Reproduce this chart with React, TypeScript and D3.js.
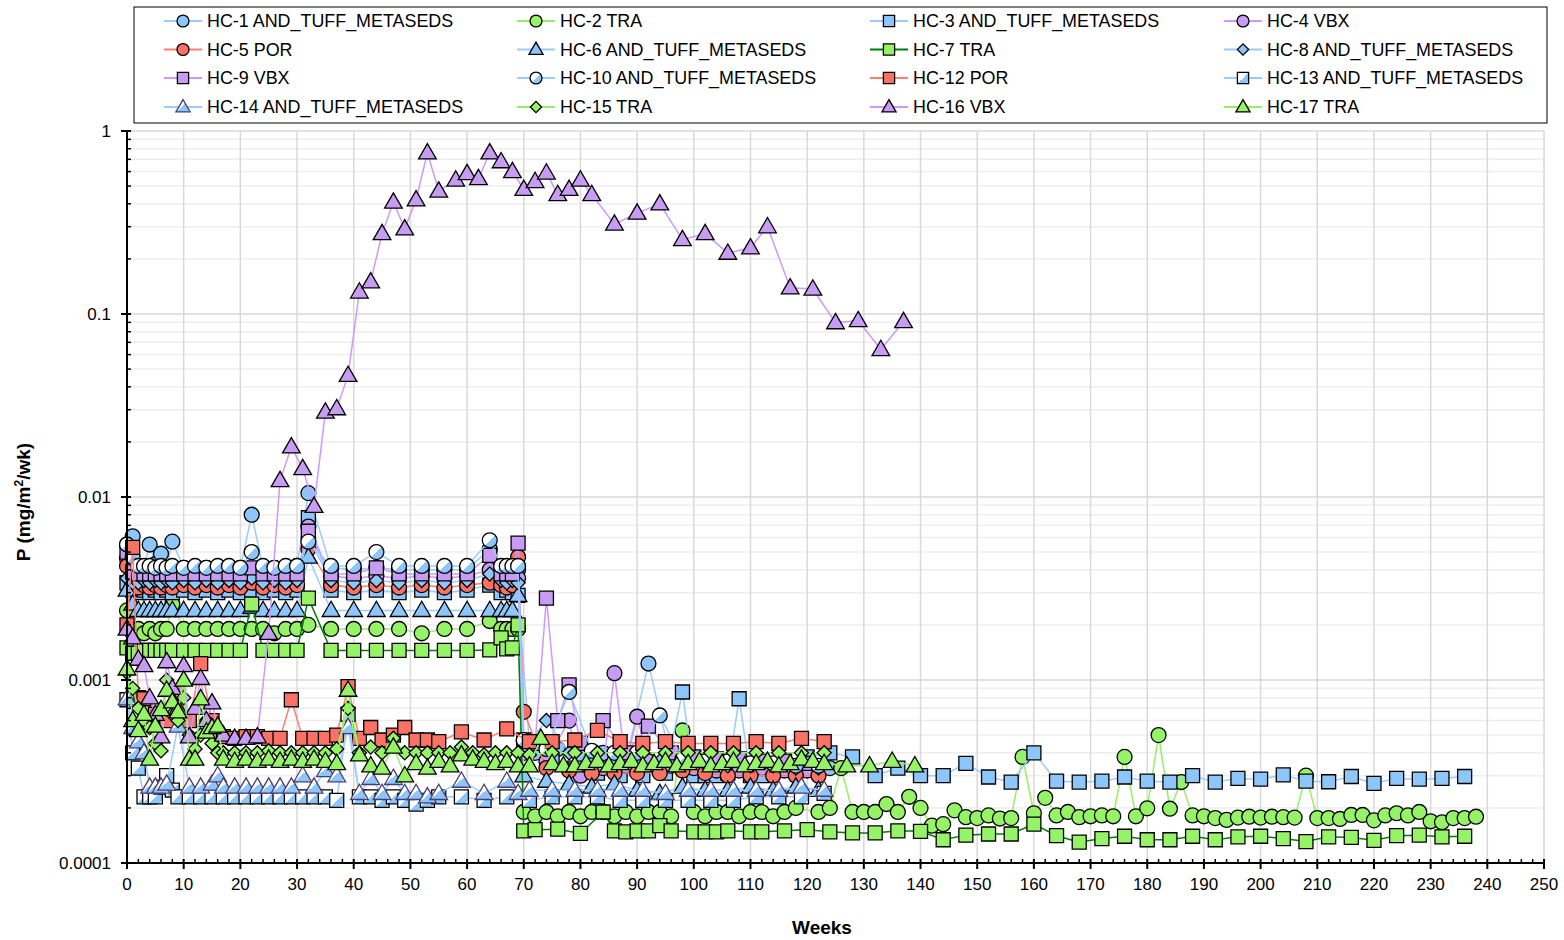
import React from 'react';
import * as d3 from 'd3';

type Pt = [number, number];

// sampling weeks shared by the upper-band series (weeks 0-69)
const weeksEarly = [0,1,2,3,4,5,6,7,8,10,12,14,16,18,20,22,24,26,28,30,32,36,40,44,48,52,56,60,64,66,67,68,69];

const hc1Early = [0.0055,0.0061,0.0042,0.0041,0.0055,0.0043,0.0049,0.0041,0.0057,0.0041,0.0041,0.0041,0.0041,0.0041,0.0041,0.0080,0.0041,0.0041,0.0041,0.0042,0.0105,0.0041,0.0040,0.0041,0.0040,0.0040,0.0040,0.0040,0.0052,0.0041,0.0041,0.0040,0.0040];
const hc2Early = [0.0024,0.0018,0.0019,0.0018,0.0019,0.0018,0.0019,0.0019,0.0026,0.0019,0.0019,0.0019,0.0019,0.0019,0.0019,0.0019,0.0019,0.0018,0.0019,0.0019,0.0020,0.0019,0.0019,0.0019,0.0019,0.0018,0.0019,0.0019,0.0021,0.0019,0.0019,0.0019,0.0019];
const hc3Early = [0.0034,0.0031,0.0030,0.0031,0.0030,0.0031,0.0030,0.0031,0.0030,0.0031,0.0030,0.0031,0.0030,0.0031,0.0030,0.0031,0.0030,0.0031,0.0030,0.0031,0.0077,0.0031,0.0030,0.0031,0.0030,0.0031,0.0030,0.0031,0.0033,0.0030,0.0031,0.0030,0.0029];
const hc4Early = [0.0046,0.0040,0.0037,0.0036,0.0037,0.0036,0.0037,0.0036,0.0037,0.0036,0.0037,0.0036,0.0037,0.0036,0.0037,0.0038,0.0036,0.0037,0.0036,0.0037,0.0069,0.0037,0.0036,0.0037,0.0036,0.0037,0.0036,0.0037,0.0040,0.0037,0.0036,0.0037,0.0036];
const hc5Early = [0.0042,0.0034,0.0032,0.0033,0.0032,0.0033,0.0032,0.0033,0.0032,0.0033,0.0032,0.0033,0.0032,0.0033,0.0032,0.0034,0.0032,0.0033,0.0032,0.0033,0.0052,0.0033,0.0032,0.0033,0.0032,0.0033,0.0032,0.0033,0.0034,0.0033,0.0032,0.0033,0.0047];
const hc6Early = [0.0031,0.0026,0.0024,0.0024,0.0024,0.0024,0.0024,0.0024,0.0024,0.0024,0.0024,0.0024,0.0024,0.0024,0.0024,0.0025,0.0024,0.0024,0.0024,0.0024,0.0047,0.0024,0.0024,0.0024,0.0024,0.0024,0.0024,0.0024,0.0024,0.0024,0.0024,0.0024,0.0029];
const hc7Early = [0.0015,0.0014,0.0014,0.00145,0.00145,0.00145,0.00145,0.00145,0.00145,0.00145,0.00145,0.00145,0.00145,0.00145,0.00145,0.0026,0.00145,0.00145,0.00145,0.00145,0.0028,0.00145,0.00145,0.00145,0.00145,0.00145,0.00145,0.00145,0.00146,0.0017,0.00148,0.0015,0.0020];
const hc8Early = [0.0036,0.0034,0.0034,0.0035,0.0034,0.0035,0.0034,0.0035,0.0034,0.0035,0.0034,0.0035,0.0034,0.0035,0.0034,0.0036,0.0034,0.0035,0.0034,0.0035,0.0060,0.0035,0.0034,0.0035,0.0034,0.0035,0.0034,0.0035,0.0038,0.0035,0.0034,0.0035,0.0034];
const hc9Early = [0.0050,0.0039,0.0038,0.0038,0.0038,0.0038,0.0038,0.0038,0.0038,0.0038,0.0038,0.0038,0.0038,0.0038,0.0038,0.0041,0.0038,0.0038,0.0038,0.0038,0.0065,0.0038,0.0038,0.0041,0.0038,0.0038,0.0038,0.0038,0.0048,0.0038,0.0038,0.0038,0.0056];
const hc10Early = [0.0055,0.0047,0.0042,0.0042,0.0042,0.0041,0.0042,0.0041,0.0042,0.0041,0.0042,0.0041,0.0042,0.0042,0.0041,0.0050,0.0042,0.0041,0.0042,0.0042,0.0057,0.0042,0.0042,0.0050,0.0042,0.0042,0.0042,0.0042,0.0058,0.0042,0.0042,0.0042,0.0042];

// after week 70: [week, value]
const hc1Late: Pt[] = [[70,0.00046],[72,0.0004],[76,0.00042],[80,0.00038],[84,0.0004],[88,0.00036],[92,0.00123],[96,0.00036],[100,0.00034],[104,0.00034],[108,0.00035],[112,0.00034],[116,0.00035],[120,0.00034],[124,0.00033]];
const hc2Late: Pt[] = [[70,0.00019],[72,0.00018],[74,0.00019],[76,0.00018],[78,0.00019],[80,0.00018],[82,0.00019],[84,0.00019],[86,0.00018],[88,0.00019],[90,0.00018],[92,0.00019],[94,0.00019],[96,0.00018],[98,0.00053],[100,0.00019],[102,0.00018],[104,0.00019],[106,0.00019],[108,0.00018],[110,0.00019],[112,0.00019],[114,0.00018],[116,0.00019],[118,0.0002],[122,0.00019],[124,0.0002],[126,0.00033],[128,0.00019],[130,0.00019],[132,0.00019],[134,0.00021],[136,0.00019],[138,0.00023],[140,0.0002],[142,0.00016],[144,0.000163],[146,0.000194],[148,0.000178],[150,0.000176],[152,0.000182],[154,0.000175],[156,0.000176],[158,0.00038],[160,0.000187],[162,0.000227],[164,0.000182],[166,0.00019],[168,0.000178],[170,0.00018],[172,0.000182],[174,0.00018],[176,0.00038],[178,0.00018],[180,0.000199],[182,0.0005],[184,0.000198],[186,0.000277],[188,0.000182],[190,0.00018],[192,0.000176],[194,0.000172],[196,0.000177],[198,0.000179],[200,0.000177],[202,0.000179],[204,0.000178],[206,0.000177],[208,0.0003],[210,0.000176],[212,0.000176],[214,0.000174],[216,0.000183],[218,0.000183],[220,0.000171],[222,0.000182],[224,0.000187],[226,0.000182],[228,0.00019],[230,0.000169],[232,0.000167],[234,0.000176],[236,0.000176],[238,0.000179]];
const hc3Late: Pt[] = [[71,0.00045],[75,0.00036],[79,0.00033],[83,0.00031],[87,0.0003],[91,0.0003],[95,0.00031],[98,0.00086],[100,0.0003],[102,0.0003],[104,0.0003],[106,0.00031],[108,0.00079],[110,0.0003],[112,0.0003],[116,0.00036],[120,0.00038],[124,0.0004],[128,0.00038],[132,0.0003],[136,0.00033],[140,0.0003],[144,0.0003],[148,0.00035],[152,0.000295],[156,0.000277],[160,0.0004],[164,0.00028],[168,0.000277],[172,0.00028],[176,0.000295],[180,0.00028],[184,0.000277],[188,0.0003],[192,0.000277],[196,0.00029],[200,0.000287],[204,0.000303],[208,0.00028],[212,0.000278],[216,0.000297],[220,0.000272],[224,0.00029],[228,0.000287],[232,0.00029],[236,0.000297]];
const hc4Late: Pt[] = [[70,0.0004],[74,0.00036],[78,0.0006],[80,0.0003],[84,0.00033],[86,0.00109],[88,0.00034],[90,0.00063],[92,0.00036],[96,0.00034],[100,0.00033],[104,0.00032],[108,0.00032],[112,0.00033],[116,0.00032],[120,0.00032]];
const hc5Late: Pt[] = [[70,0.00067],[74,0.00033],[78,0.00032],[82,0.00031],[86,0.00031],[90,0.00031],[94,0.00031],[98,0.00032],[102,0.00031],[106,0.0003],[110,0.0003],[114,0.0003],[118,0.0003],[122,0.0003]];
const hc6Late: Pt[] = [[70,0.0003],[74,0.00028],[78,0.00027],[82,0.00026],[86,0.00027],[90,0.00025],[94,0.00024],[98,0.00026],[102,0.00025],[106,0.00025],[110,0.00026],[114,0.00025],[118,0.00026],[122,0.00025]];
const hc7Late: Pt[] = [[70,0.00015],[72,0.000152],[76,0.000153],[80,0.000145],[84,0.00019],[86,0.00015],[88,0.000148],[90,0.00015],[92,0.00015],[94,0.00016],[96,0.00015],[100,0.000148],[102,0.000148],[104,0.000148],[106,0.00015],[110,0.000148],[112,0.000148],[116,0.00015],[120,0.000152],[124,0.000148],[128,0.000146],[132,0.000146],[136,0.00015],[140,0.000149],[144,0.000134],[148,0.000142],[152,0.000144],[156,0.000144],[160,0.000163],[164,0.000141],[168,0.00013],[172,0.000136],[176,0.00014],[180,0.000134],[184,0.000134],[188,0.00014],[192,0.000134],[196,0.000139],[200,0.00014],[204,0.000136],[208,0.000131],[212,0.000139],[216,0.000138],[220,0.000133],[224,0.000141],[228,0.000142],[232,0.000139],[236,0.00014]];
const hc8Late: Pt[] = [[70,0.00042],[74,0.0006],[78,0.0004],[82,0.00038],[86,0.00037],[90,0.00037],[94,0.00036],[98,0.00035],[102,0.00035],[106,0.00034],[110,0.00034],[114,0.00034],[118,0.00033],[122,0.00033]];
const hc9Late: Pt[] = [[70,0.00047],[72,0.00045],[74,0.0028],[76,0.0006],[78,0.00094],[80,0.00045],[84,0.0006],[88,0.0004],[92,0.00056],[96,0.0004],[100,0.00038],[104,0.00037],[108,0.00037],[112,0.00036],[116,0.00036],[120,0.00035]];
const hc10Late: Pt[] = [[70,0.00047],[74,0.00042],[78,0.00086],[82,0.00041],[86,0.0004],[90,0.0004],[94,0.00064],[98,0.00037],[102,0.00036],[106,0.00036],[110,0.00035],[114,0.00035],[118,0.00034],[122,0.00034]];

// lower-band series
const hc12: Pt[] = [[0,0.002],[1,0.0053],[2,0.0008],[3,0.00079],[5,0.00065],[7,0.0006],[9,0.00086],[11,0.0006],[13,0.00123],[15,0.0006],[17,0.00049],[19,0.00048],[21,0.00049],[23,0.00049],[25,0.00048],[27,0.00048],[29,0.00078],[31,0.00048],[33,0.00048],[35,0.00048],[37,0.0005],[39,0.00092],[41,0.00048],[43,0.00055],[45,0.00047],[47,0.0005],[49,0.00055],[51,0.00047],[53,0.00047],[55,0.00046],[59,0.00052],[63,0.00047],[67,0.00054],[71,0.00046],[75,0.00046],[79,0.00047],[83,0.00053],[87,0.00046],[91,0.00045],[95,0.00046],[99,0.00045],[103,0.00045],[107,0.00045],[111,0.00046],[115,0.00045],[119,0.00048],[123,0.00046]];
const hc13: Pt[] = [[0,0.00078],[1,0.0004],[2,0.00033],[3,0.00023],[4,0.00023],[5,0.00023],[6,0.00026],[7,0.0003],[8,0.00025],[9,0.00023],[11,0.00023],[13,0.00023],[15,0.00023],[17,0.00023],[19,0.00023],[21,0.00023],[23,0.00023],[25,0.00023],[27,0.00023],[29,0.00023],[31,0.00023],[33,0.00023],[35,0.00023],[37,0.00022],[39,0.00065],[41,0.00023],[43,0.00023],[45,0.00022],[47,0.00023],[49,0.00022],[51,0.00021],[53,0.00022],[55,0.00023],[59,0.00023],[63,0.00022],[67,0.00023],[71,0.00022],[75,0.00023],[79,0.00023],[83,0.00023],[87,0.00022],[91,0.00022],[95,0.00022],[99,0.00022],[103,0.00022],[107,0.00022],[111,0.00023],[115,0.00023],[119,0.00023],[123,0.00024]];
const hc14: Pt[] = [[0,0.00079],[1,0.00055],[2,0.00046],[3,0.0004],[4,0.00026],[5,0.00026],[6,0.00026],[7,0.00027],[9,0.00056],[11,0.00026],[13,0.00026],[15,0.00027],[16,0.0003],[17,0.00026],[19,0.00026],[21,0.00026],[23,0.00026],[25,0.00026],[27,0.00026],[29,0.00026],[31,0.0003],[33,0.00026],[35,0.00032],[37,0.0003],[39,0.00055],[41,0.00024],[43,0.00029],[45,0.00024],[47,0.00029],[49,0.00024],[51,0.00024],[53,0.00023],[55,0.00024],[59,0.00028],[63,0.00024],[67,0.00028],[69,0.00024],[71,0.00025],[75,0.00025],[79,0.00025],[83,0.00025],[87,0.00025],[91,0.00025],[95,0.00024],[99,0.00025],[103,0.00025],[107,0.00025],[111,0.00025],[115,0.00025],[119,0.00026],[123,0.00025]];
const hc15: Pt[] = [[0,0.0011],[1,0.0009],[2,0.0007],[3,0.0006],[4,0.00055],[5,0.00045],[6,0.00041],[7,0.001],[8,0.00065],[9,0.0006],[10,0.0008],[11,0.0005],[12,0.00042],[13,0.0005],[14,0.0006],[15,0.00045],[16,0.0004],[17,0.0004],[19,0.0004],[21,0.0004],[23,0.0004],[25,0.00041],[27,0.0004],[29,0.0004],[31,0.0004],[33,0.0004],[35,0.0004],[37,0.00042],[39,0.0007],[41,0.0004],[43,0.00043],[45,0.0004],[47,0.00048],[49,0.0004],[51,0.0004],[53,0.0004],[55,0.0004],[57,0.0004],[59,0.00043],[61,0.0004],[63,0.00039],[65,0.0004],[67,0.0004],[69,0.0004],[71,0.00039],[75,0.0004],[79,0.0004],[83,0.0004],[87,0.0004],[91,0.0004],[95,0.0004],[99,0.0004],[103,0.0004],[107,0.0004],[111,0.0004],[115,0.0004],[119,0.0004],[123,0.0004]];
const hc16: Pt[] = [[0,0.0019],[1,0.0017],[2,0.0013],[3,0.0012],[4,0.0008],[5,0.00065],[6,0.00049],[7,0.00126],[8,0.0009],[9,0.0007],[10,0.0012],[11,0.00049],[12,0.0007],[13,0.00102],[14,0.0006],[15,0.00075],[16,0.00055],[17,0.0005],[19,0.00048],[21,0.00048],[23,0.00049],[25,0.0018],[27,0.0123],[29,0.0188],[31,0.0143],[33,0.0089],[35,0.0291],[37,0.0304],[39,0.0462],[41,0.132],[43,0.15],[45,0.275],[47,0.409],[49,0.292],[51,0.421],[53,0.76],[55,0.47],[58,0.54],[60,0.585],[62,0.55],[64,0.76],[66,0.68],[68,0.6],[70,0.48],[72,0.53],[74,0.59],[76,0.45],[78,0.48],[80,0.54],[82,0.45],[86,0.31],[90,0.356],[94,0.4],[98,0.255],[102,0.275],[106,0.215],[110,0.23],[113,0.3],[117,0.139],[121,0.137],[125,0.0897],[129,0.092],[133,0.064],[137,0.091]];
const hc17: Pt[] = [[0,0.00115],[1,0.0006],[2,0.00053],[3,0.00065],[4,0.00037],[5,0.00056],[6,0.00069],[7,0.00088],[8,0.00076],[9,0.00067],[10,0.001],[11,0.00037],[12,0.00037],[13,0.00079],[14,0.00052],[15,0.00055],[16,0.00056],[17,0.00037],[19,0.00036],[21,0.00037],[23,0.00036],[25,0.00037],[27,0.00036],[29,0.00037],[31,0.00036],[33,0.00037],[35,0.00036],[37,0.00035],[39,0.00088],[41,0.00039],[43,0.00034],[45,0.00033],[47,0.00043],[49,0.0003],[51,0.00035],[53,0.00033],[55,0.00036],[57,0.00034],[59,0.00039],[61,0.00037],[63,0.00036],[65,0.00035],[67,0.00036],[69,0.00034],[71,0.00034],[73,0.00048],[75,0.00035],[77,0.00034],[79,0.00034],[81,0.00035],[83,0.00036],[85,0.00034],[87,0.00035],[89,0.00036],[91,0.00034],[93,0.00035],[95,0.00036],[97,0.00034],[99,0.00035],[101,0.00036],[103,0.00034],[105,0.00035],[107,0.00036],[109,0.00034],[111,0.00035],[113,0.00036],[115,0.00034],[117,0.00035],[119,0.00037],[121,0.00036],[123,0.00035],[127,0.00034],[131,0.00034],[135,0.00036],[139,0.00034]];

const yTickLabels = ['0.0001', '0.001', '0.01', '0.1', '1'];
const xTicks = d3.range(0, 251, 10);

const BLUE = '#8CC6FA', BLUE_LINE = '#99CCFF';
const GREEN = '#96F266', GREEN_LINE = '#99EE66';
const RED = '#FA7266', RED_LINE = '#FF7F73';
const PURPLE = '#C79CF2', PURPLE_LINE = '#CC99FF';
const DARK_GREEN = '#008000';
const SPLIT = 'url(#split)';
const FONT = '"Liberation Sans", Arial, sans-serif';

const zip = (w: number[], v: number[]): Pt[] => w.map((d, i) => [d, v[i]] as Pt);

const series = [
  {name: 'HC-1 AND_TUFF_METASEDS', data: zip(weeksEarly, hc1Early).concat(hc1Late), shape: 'circle', fill: BLUE, line: BLUE_LINE},
  {name: 'HC-2 TRA', data: zip(weeksEarly, hc2Early).concat(hc2Late), shape: 'circle', fill: GREEN, line: GREEN_LINE},
  {name: 'HC-3 AND_TUFF_METASEDS', data: zip(weeksEarly, hc3Early).concat(hc3Late), shape: 'square', fill: BLUE, line: BLUE_LINE},
  {name: 'HC-4 VBX', data: zip(weeksEarly, hc4Early).concat(hc4Late), shape: 'circle', fill: PURPLE, line: PURPLE_LINE},
  {name: 'HC-5 POR', data: zip(weeksEarly, hc5Early).concat(hc5Late), shape: 'circle', fill: RED, line: RED_LINE},
  {name: 'HC-6 AND_TUFF_METASEDS', data: zip(weeksEarly, hc6Early).concat(hc6Late), shape: 'triangle', fill: BLUE, line: BLUE_LINE},
  {name: 'HC-7 TRA', data: zip(weeksEarly, hc7Early).concat(hc7Late), shape: 'square', fill: GREEN, line: DARK_GREEN},
  {name: 'HC-8 AND_TUFF_METASEDS', data: zip(weeksEarly, hc8Early).concat(hc8Late), shape: 'diamond', fill: BLUE, line: BLUE_LINE},
  {name: 'HC-9 VBX', data: zip(weeksEarly, hc9Early).concat(hc9Late), shape: 'square', fill: PURPLE, line: PURPLE_LINE},
  {name: 'HC-10 AND_TUFF_METASEDS', data: zip(weeksEarly, hc10Early).concat(hc10Late), shape: 'circle', fill: SPLIT, line: BLUE_LINE},
  {name: 'HC-12 POR', data: hc12, shape: 'square', fill: RED, line: RED_LINE},
  {name: 'HC-13 AND_TUFF_METASEDS', data: hc13, shape: 'square', fill: SPLIT, line: BLUE_LINE},
  {name: 'HC-14 AND_TUFF_METASEDS', data: hc14, shape: 'triangle', fill: SPLIT, line: BLUE_LINE, stroke: '#4A3B73'},
  {name: 'HC-15 TRA', data: hc15, shape: 'diamond', fill: GREEN, line: GREEN_LINE},
  {name: 'HC-16 VBX', data: hc16, shape: 'triangle', fill: PURPLE, line: PURPLE_LINE},
  {name: 'HC-17 TRA', data: hc17, shape: 'triangle', fill: GREEN, line: GREEN_LINE},
];

const symbols: Record<string, string> = {
  circle: d3.symbol(d3.symbolCircle, 175)() as string,
  square: d3.symbol(d3.symbolSquare, 196)() as string,
  triangle: d3.symbol(d3.symbolTriangle, 135)() as string,
  diamond: d3.symbol(d3.symbolSquare, 100)() as string,
};

const Marker = ({shape, x, y, fill, stroke, scale = 1}: any) => (
  <path d={symbols[shape]}
    transform={`translate(${x},${y}) scale(${scale})${shape === 'diamond' ? ' rotate(45)' : ''}${shape === 'triangle' ? ' translate(0,1)' : ''}`}
    fill={fill} stroke={stroke || '#000'} strokeWidth={1.3 / scale} />
);

export default function App() {
  const x = d3.scaleLinear().domain([0, 250]).range([127, 1544]);
  const y = d3.scaleLog().domain([0.0001, 1]).range([863, 131]);
  const line = d3.line<Pt>().x(d => x(d[0])).y(d => y(d[1]));

  const decades = [0.0001, 0.001, 0.01, 0.1];
  const minor: number[] = [];
  decades.forEach(d => { for (let k = 2; k <= 9; k++) minor.push(d * k); });
  const major = [0.0001, 0.001, 0.01, 0.1, 1];
  const xMinor = d3.range(0, 251, 2).filter(v => v % 10 !== 0);

  const legendCols = [183, 536, 889, 1243];
  const legendRows = [21, 49.5, 78, 107];

  return (
    <svg width={1564} height={940} style={{position: 'absolute', left: 0, top: 0, background: '#fff'}}
      fontFamily={FONT}>
      <defs>
        <linearGradient id="split" x1="0" y1="0" x2="1" y2="1">
          <stop offset="0" stopColor="#fff" />
          <stop offset="0.5" stopColor="#fff" />
          <stop offset="0.5" stopColor={BLUE} />
          <stop offset="0.88" stopColor={BLUE} />
          <stop offset="0.88" stopColor="#fff" />
          <stop offset="1" stopColor="#fff" />
        </linearGradient>
      </defs>

      {/* grid */}
      {minor.map((v, i) => (
        <line key={'hm' + i} x1={127} x2={1544} y1={y(v)} y2={y(v)} stroke="#EEEEEE" strokeWidth={1.5} />
      ))}
      {major.map((v, i) => (
        <line key={'hM' + i} x1={127} x2={1544} y1={y(v)} y2={y(v)} stroke="#D9D9D9" strokeWidth={1.5} />
      ))}
      {xTicks.map(v => (
        <line key={'vg' + v} x1={x(v)} x2={x(v)} y1={131} y2={863} stroke="#D9D9D9" strokeWidth={1.5} />
      ))}

      {/* series */}
      {series.map(s => (
        <g key={s.name}>
          <path d={line(s.data) as string} fill="none" stroke={s.line} strokeWidth={1.5} />
          {s.data.map((d, i) => (
            <Marker key={i} shape={s.shape} x={x(d[0])} y={y(d[1])} fill={s.fill} stroke={(s as any).stroke} />
          ))}
        </g>
      ))}

      {/* y axis */}
      <line x1={127} x2={127} y1={130} y2={864} stroke="#000" strokeWidth={2} />
      {major.map((v, i) => (
        <g key={'yt' + i}>
          <line x1={121} x2={131} y1={y(v)} y2={y(v)} stroke="#000" strokeWidth={2} />
          <text x={111} y={y(v) + 6} fontSize={17} textAnchor="end">{yTickLabels[i]}</text>
        </g>
      ))}
      {minor.map((v, i) => (
        <line key={'ym' + i} x1={127} x2={131} y1={y(v)} y2={y(v)} stroke="#000" strokeWidth={1.5} />
      ))}

      {/* x axis */}
      <line x1={126} x2={1545} y1={863} y2={863} stroke="#000" strokeWidth={2} />
      {xTicks.map(v => (
        <g key={'xt' + v}>
          <line x1={x(v)} x2={x(v)} y1={859} y2={869} stroke="#000" strokeWidth={2} />
          <text x={x(v)} y={890} fontSize={17} textAnchor="middle">{v}</text>
        </g>
      ))}
      {xMinor.map(v => (
        <line key={'xm' + v} x1={x(v)} x2={x(v)} y1={859} y2={863} stroke="#000" strokeWidth={1.5} />
      ))}

      <text x={822} y={934} fontSize={19} fontWeight="bold" textAnchor="middle">Weeks</text>
      <text transform="translate(30,502) rotate(-90)" fontSize={19} fontWeight="bold" textAnchor="middle">
        P (mg/m<tspan fontSize={12} dy={-7}>2</tspan><tspan dy={7}>/wk)</tspan>
      </text>

      {/* legend */}
      <rect x={134} y={7} width={1413} height={116} fill="#fff" stroke="#000" strokeWidth={1} />
      {series.map((s, i) => {
        const cx = legendCols[i % 4];
        const cy = legendRows[Math.floor(i / 4)];
        return (
          <g key={'lg' + i}>
            <line x1={cx - 19} x2={cx + 19} y1={cy} y2={cy} stroke={s.line} strokeWidth={2} />
            <Marker shape={s.shape} x={cx} y={cy} fill={s.fill} stroke={(s as any).stroke} scale={0.8} />
            <text x={cx + 24} y={cy + 6} fontSize={17.9}>{s.name}</text>
          </g>
        );
      })}
    </svg>
  );
}
